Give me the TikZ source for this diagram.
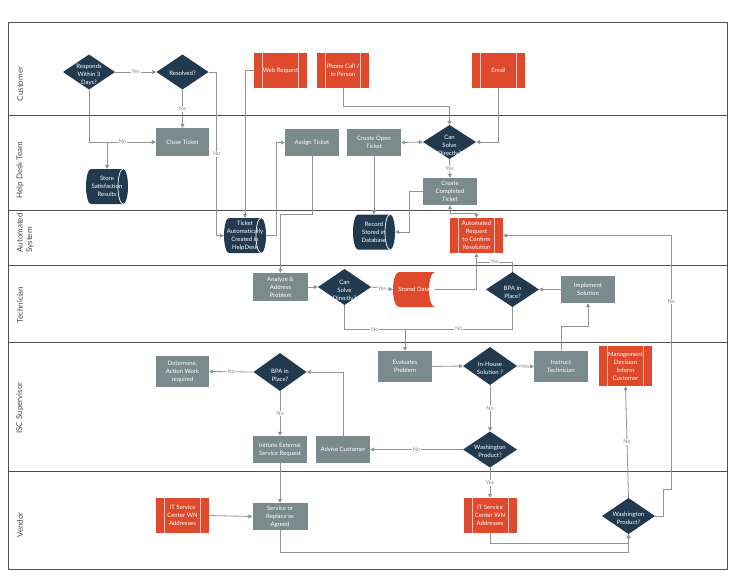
\documentclass[tikz,border=0pt]{standalone}
\usepackage{fontspec}
\setmainfont{Lato}
\usetikzlibrary{arrows.meta}
\definecolor{navy}{HTML}{223A50}
\definecolor{boxgray}{HTML}{7B8A8A}
\definecolor{orng}{HTML}{E04A2C}
\definecolor{cgray}{HTML}{939393}
\definecolor{lanegray}{HTML}{4A4A4A}
\definecolor{lbltext}{HTML}{8A8A8A}
\definecolor{framec}{HTML}{505050}
\newcommand\myNodeFont{\fontsize{6}{8}\selectfont}
\newcommand\myLblFont{\fontsize{5.5}{6}\selectfont}
\newcommand\myLaneFont{\fontsize{8}{9.5}\selectfont}
\tikzset{
  base/.style={rectangle, inner sep=1pt, align=center, text=white, font=\myNodeFont},
  gbox/.style={base, fill=boxgray, minimum width=54pt, minimum height=27pt},
  bar/.style={draw=white!65!orng, line width=0.9pt},
  pproc/.style={base, fill=orng, minimum width=53pt, minimum height=35pt,
    path picture={
      \draw[bar] ([xshift=8.5pt]path picture bounding box.north west) -- ([xshift=8.5pt]path picture bounding box.south west);
      \draw[bar] ([xshift=-8.5pt]path picture bounding box.north east) -- ([xshift=-8.5pt]path picture bounding box.south east);}},
  dtxt/.style={font=\myNodeFont, text=white, align=center, inner sep=0pt, yshift=-3pt},
  dia/.style={base, minimum width=53pt, minimum height=36pt,
    path picture={
      \fill[navy] (path picture bounding box.north) -- (path picture bounding box.east) -- (path picture bounding box.south) -- (path picture bounding box.west) -- cycle;}},
  cyl/.style={base, minimum width=42pt, minimum height=35pt,
    path picture={
      \fill[navy] ([xshift=5pt]path picture bounding box.north west) -- ([xshift=-5pt]path picture bounding box.north east)
        arc[start angle=90, end angle=-90, x radius=5pt, y radius=17.5pt]
        -- ([xshift=5pt]path picture bounding box.south west)
        arc[start angle=270, end angle=90, x radius=5pt, y radius=17.5pt] -- cycle;
      \draw[white, line width=0.7pt] ([xshift=-5pt]path picture bounding box.north east)
        arc[start angle=90, end angle=270, x radius=5pt, y radius=17.5pt];}},
  sdata/.style={base, minimum width=42pt, minimum height=35pt,
    path picture={
      \fill[orng] ([xshift=6pt]path picture bounding box.north west) -- (path picture bounding box.north east)
        arc[start angle=90, end angle=270, x radius=6pt, y radius=17.5pt]
        -- ([xshift=6pt]path picture bounding box.south west)
        arc[start angle=270, end angle=90, x radius=6pt, y radius=17.5pt] -- cycle;}},
  lanelbl/.style={rotate=90, font=\myLaneFont, text=lanegray, align=left, inner sep=0pt},
  lbl/.style={fill=white, inner sep=0.8pt, font=\myLblFont, text=lbltext},
  ln/.style={draw=cgray, line width=0.8pt},
  arr/.style={ln, -{Triangle[length=4pt,width=4pt]}},
  arr2/.style={ln, {Triangle[length=4pt,width=4pt]}-{Triangle[length=4pt,width=4pt]}},
  frame/.style={draw=framec, line width=0.9pt},
}
\begin{document}
\begin{tikzpicture}[x=1pt,y=-1pt]
\useasboundingbox (0,0) rectangle (735,578);
\fill[white] (0,0) rectangle (735,578);

% frame and lanes
\draw[frame] (8,22) rectangle (727,569);
\draw[frame] (8,115) -- (727,115);
\draw[frame] (8,210) -- (727,210);
\draw[frame] (8,265) -- (727,265);
\draw[frame] (8,342) -- (727,342);
\draw[frame] (8,471) -- (727,471);

\node[lanelbl] (lcust) at (20,84) {Customer};
\node[lanelbl] (lhelp) at (20,170) {Help Desk Team};
\node[lanelbl] (lauto) at (25,233) {Automated\\System};
\node[lanelbl] (ltech) at (20,305) {Technician};
\node[lanelbl] (lisc) at (20,408) {ISC Supervisor};
\node[lanelbl] (lvend) at (20,525) {Vendor};

% Customer
\node[dia, minimum width=52pt, minimum height=35pt, label={[dtxt]center:{Responds\\Within 3\\Days?}}] (d1) at (89,72) {};
\node[dia, minimum width=52pt, minimum height=35pt, label={[dtxt, yshift=2pt]center:{Resolved?}}] (d2) at (182.5,72) {};
\node[pproc] (web) at (280.5,70.5) {Web Request};
\node[pproc, minimum width=52pt] (phone) at (343,70.5) {Phone Call /\\In Person};
\node[pproc] (email) at (498.5,70.5) {Email};

% Help desk
\node[gbox, minimum width=53pt, minimum height=28pt] (close) at (182.5,142) {Close Ticket};
\node[cyl] (store) at (107,186.5) {Store\\Satisfaction\\Results};
\node[gbox] (assign) at (312,142.5) {Assign Ticket};
\node[gbox] (openT) at (374,142.5) {Create Open\\Ticket};
\node[dia, minimum height=34pt, label={[dtxt, yshift=-1pt]center:{Can\\Solve\\Directly?}}] (canhd) at (449.5,142) {};
\node[gbox] (compl) at (450,191.5) {Create\\Completed\\Ticket};

% Automated system
\node[cyl] (tauto) at (245,235.5) {Ticket\\Automatically\\Created in\\HelpDesk};
\node[cyl] (record) at (374,232) {Record\\Stored in\\Database};
\node[pproc] (autoreq) at (476.5,235.5) {Automated\\Request\\to Confirm\\Resolution};

% Technician
\node[gbox, minimum width=55pt, minimum height=28pt] (analyze) at (280.5,287) {Analyze \&\\Address\\Problem};
\node[dia, label={[dtxt, yshift=-1pt]center:{Can\\Solve\\Directly?}}] (cantech) at (344.5,287) {};
\node[sdata] (stored) at (414,289.5) {Stored Data};
\node[dia, minimum height=35pt, label={[dtxt]center:{BPA in\\Place?}}] (bpat) at (512.5,289.5) {};
\node[gbox] (impl) at (588,289.5) {Implement\\Solution};

% ISC Supervisor
\node[gbox, minimum width=53pt, minimum height=31pt] (determ) at (182.5,371.5) {Determine,\\Action Work\\required};
\node[dia, minimum height=38pt, label={[dtxt]center:{BPA in\\Place?}}] (bpai) at (280,372) {};
\node[gbox, minimum height=31pt] (evalp) at (405,366.5) {Evaluates\\Problem};
\node[dia, minimum width=54pt, minimum height=38pt, label={[dtxt, yshift=1pt]center:{In-House\\Solution ?}}] (inh) at (490,366) {};
\node[gbox, minimum height=31pt] (instr) at (561,366.5) {Instruct\\Technician};
\node[pproc, minimum height=40pt] (mgmt) at (625.5,366) {Management\\Decision\\Inform\\Customer};
\node[gbox] (initx) at (280,449.5) {Initiate External\\Service Request};
\node[gbox] (advise) at (343,449.5) {Advise Customer};
\node[dia, minimum width=54pt, label={[dtxt, yshift=1pt]center:{Washington\\Product?}}] (wash1) at (490,449.5) {};

% Vendor
\node[pproc] (itsl) at (182.5,515.5) {IT Service\\Center WN\\Addresses};
\node[gbox, minimum width=55pt] (svc) at (280,516.5) {Service or\\Replace as\\Agreed};
\node[pproc] (itsr) at (490,515.5) {IT Service\\Center WN\\Addresses};
\node[dia, label={[dtxt, yshift=1pt]center:{Washington\\Product?}}] (wash2) at (628.5,516) {};

% connectors
\draw[arr] (d1.east) -- node[lbl]{Yes} (d2.west);
\draw[arr] (d1.south) |- node[lbl, pos=0.75]{No} (close.west);
\draw[arr] (store.north |- close.west) -- (store.north);
\draw[arr] (d2.south) -- node[lbl]{Yes} (close.north);
\draw[arr] (d2.east) -- ++(8,0) |- node[lbl, pos=0.25]{No} (tauto.west);
\draw[arr] (web.west) -| (tauto.north);
\draw[arr] (phone.south) -- ++(0,18.5) -| (canhd.north);
\draw[arr] (email.south) |- (canhd.east);
\draw[arr2] (openT.east) -- (canhd.west);
\draw[arr] (canhd.south) -- node[lbl]{Yes} (compl.north);
\draw[arr] (openT.south) -- (record.north);
\draw[arr] (compl.west) -- ++(-13,0) |- (record.east);
\draw[arr2] (compl.south) -- ++(0,8) -| (autoreq.north);
\draw[arr] (assign.south) -- ++(0,58) -| (analyze.north);
\draw[arr] (tauto.east) -- ++(10,0) |- (assign.west);
\draw[arr] (analyze.east) -- (cantech.west);
\draw[arr] (cantech.east) -- node[lbl]{Yes} (stored.west);
\draw[arr] (cantech.south) -- ++(0,24) -| node[lbl, pos=0.25]{No} (evalp.north);
\draw[ln] (bpat.south) |- node[lbl, pos=0.75]{No} (evalp.north |- 0,329);
\draw[arr] (stored.east) -| (autoreq.south);
\draw[ln] (bpat.north) |- node[lbl, pos=0.75]{Yes} (autoreq.south |- 0,262);
\draw[arr] (impl.west) -- (bpat.east);
\draw[arr] (instr.north) -- ++(0,-24) -| (impl.south);
\draw[arr] (evalp.east) -- (inh.west);
\draw[arr] (inh.east) -- node[lbl]{Yes} (instr.west);
\draw[arr] (inh.south) -- node[lbl]{No} (wash1.north);
\draw[arr] (wash1.west) -- node[lbl]{No} (advise.east);
\draw[arr] (advise.north) |- (bpai.east);
\draw[arr] (bpai.west) -- node[lbl]{No} (determ.east);
\draw[arr] (bpai.south) -- node[lbl]{No} (initx.north);
\draw[arr] (initx.south) -- (svc.north);
\draw[arr] (itsl.east) -- (svc.west);
\draw[arr] (wash1.south) -- node[lbl]{Yes} (itsr.north);
\draw[arr] (itsr.south) -- ++(0,10) -| (wash2.south);
\draw[arr] (svc.south) -- ++(0,22) -| (wash2.south);
\draw[arr] (wash2.north) -- node[lbl]{No} (mgmt.south);
\draw[arr] (wash2.east) -- ++(8,0) -- ++(0,-27) -- ++(8,0) |- node[lbl, pos=0.37]{No} (autoreq.east);
\end{tikzpicture}
\end{document}
